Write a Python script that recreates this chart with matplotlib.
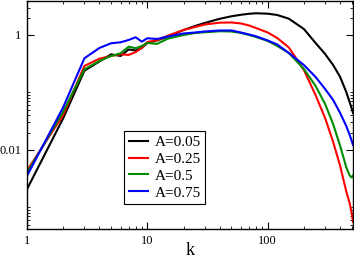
import numpy as np
import matplotlib
matplotlib.use("Agg")
import matplotlib.pyplot as plt
from matplotlib.ticker import FixedLocator, NullFormatter

plt.rcParams['font.family'] = ['Liberation Serif', 'DejaVu Serif']

k = [1, 2, 3, 4, 5, 6, 7, 8, 9, 10, 12, 15, 20, 25, 30, 40, 50, 60, 70, 80,
     100, 120, 150, 200, 250, 300, 350, 400, 450, 480, 500, 512]

a005 = [0.00207, 0.0356, 0.239, 0.346, 0.46, 0.431, 0.56, 0.537, 0.594, 0.726,
        0.802, 0.942, 1.22, 1.434, 1.617, 1.913, 2.114, 2.245, 2.337, 2.385,
        2.347, 2.227, 1.92, 1.27, 0.726, 0.467, 0.30, 0.186, 0.102, 0.068, 0.052, 0.044]
a025 = [0.00436, 0.0406, 0.289, 0.387, 0.431, 0.462, 0.449, 0.506, 0.594, 0.756,
        0.809, 0.984, 1.22, 1.378, 1.523, 1.637, 1.65, 1.585, 1.463, 1.323,
        1.105, 0.887, 0.606, 0.246, 0.09, 0.036, 0.0138, 0.0053, 0.0019, 0.00119, 0.00078, 0.00056]
a05 = [0.00398, 0.0464, 0.253, 0.353, 0.431, 0.48, 0.626, 0.587, 0.644, 0.726,
       0.70, 0.87, 1.0, 1.083, 1.114, 1.16, 1.15, 1.083, 1.0, 0.923,
       0.787, 0.644, 0.486, 0.256, 0.13, 0.063, 0.0282, 0.0118, 0.005, 0.0036, 0.0033, 0.0036]
a075 = [0.00353, 0.0553, 0.393, 0.594, 0.717, 0.746, 0.819, 0.912, 0.765, 0.876,
        0.852, 0.942, 1.062, 1.105, 1.15, 1.197, 1.197, 1.105, 1.02, 0.949,
        0.802, 0.684, 0.486, 0.30, 0.186, 0.115, 0.074, 0.044, 0.026, 0.0183, 0.0143, 0.0122]

labels = ['A=0.05', 'A=0.25', 'A=0.5', 'A=0.75']
colors = ['black', 'red', '#008c00', 'blue']

fig = plt.figure(figsize=(3.54, 2.59), dpi=100)
ax = fig.add_axes([27/354, 30/259, 326/354, 228/259])

for ys, lab, c in zip([a005, a025, a05, a075], labels, colors):
    ax.plot(k, ys, color=c, lw=1.5, label=lab)

ax.set_xscale('log')
ax.set_yscale('log')
ax.set_xlim(1, 512)
ax.set_ylim(4.2e-4, 3.9)

# grace style ticks: inside, on all four sides
ax.xaxis.set_major_locator(FixedLocator([1, 10, 100]))
ax.set_xticklabels(['1', '10', '100'])
ax.xaxis.set_minor_locator(FixedLocator([m * d for d in [1, 10, 100] for m in range(2, 10)]))
ax.yaxis.set_major_locator(FixedLocator([1e-4, 1e-2, 1]))
ax.set_yticklabels(['0.0001', '0.01', '1'])
ax.yaxis.set_minor_locator(FixedLocator([m * d for d in [1e-4, 1e-2, 1] for m in range(2, 11)]))
ax.xaxis.set_minor_formatter(NullFormatter())
ax.yaxis.set_minor_formatter(NullFormatter())
ax.tick_params(which='both', direction='in', top=True, right=True, labelsize=9, pad=4)
ax.tick_params(which='major', length=5, width=0.8)
ax.tick_params(which='minor', length=2.5, width=0.6)
for s in ax.spines.values():
    s.set_linewidth(1.0)

ax.set_xlabel('k', fontsize=13, labelpad=-3)

leg = ax.legend(loc='upper left', bbox_to_anchor=((124-27)/326, (229-131)/228),
                borderaxespad=0, fontsize=11, handlelength=1.3, handletextpad=0.4,
                labelspacing=0.2, borderpad=0.3, fancybox=False, framealpha=1,
                edgecolor='black')
leg.get_frame().set_linewidth(0.8)

fig.savefig('out.png', dpi=100)
